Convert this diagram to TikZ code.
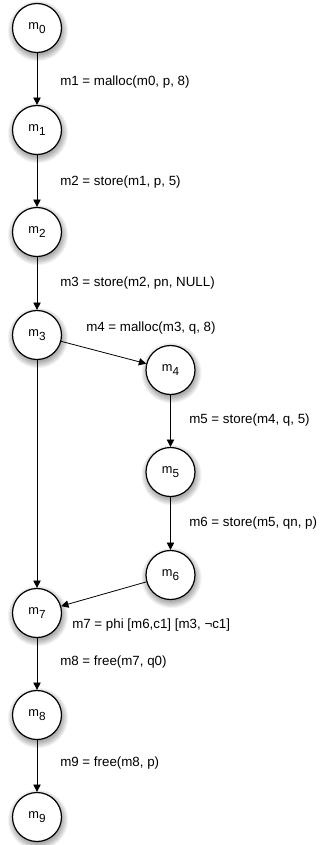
\documentclass[tikz,border=0pt]{standalone}
\usepackage{fontspec}
\setmainfont{Liberation Sans}
\usetikzlibrary{arrows.meta}
% state label: m with a lowered index
\newcommand{\mstate}[1]{m\raisebox{-3pt}{\fontsize{8.8}{10}\selectfont #1}}
\begin{document}
\begin{tikzpicture}[x=0.75pt,y=-0.75pt,
  state/.style={circle,draw,fill=white,line width=0.9pt,minimum size=36.75pt,
    inner sep=0pt,font=\fontsize{9.6}{11}\selectfont},
  lbl/.style={anchor=west,inner sep=0pt,font=\fontsize{10}{12}\selectfont},
  flow/.style={-{Triangle[length=5.5pt,width=5.5pt]},line width=0.6pt},
  ]
\useasboundingbox (0,0) rectangle (320,845);

% soft shadows under the states
\foreach \x/\y in {37/28,37/130,37/232,37/335,170.5/370,170.5/472,170.5/575,37/613,37/715,37/817}{
  \foreach \r in {30,29,...,22}{
    \fill[black,opacity=0.05] (\x+1,\y+3) circle ({\r*0.75pt});
  }
}

% states
\node[state] (m0) at (37,28)  {\mstate{0}};
\node[state] (m1) at (37,130) {\mstate{1}};
\node[state] (m2) at (37,232) {\mstate{2}};
\node[state] (m3) at (37,335) {\mstate{3}};
\node[state] (m4) at (170.5,370) {\mstate{4}};
\node[state] (m5) at (170.5,472) {\mstate{5}};
\node[state] (m6) at (170.5,575) {\mstate{6}};
\node[state] (m7) at (37,613) {\mstate{7}};
\node[state] (m8) at (37,715) {\mstate{8}};
\node[state] (m9) at (37,817) {\mstate{9}};

% transitions
\draw[flow] (m0) -- (m1);
\draw[flow] (m1) -- (m2);
\draw[flow] (m2) -- (m3);
\draw[flow] (m3) -- (m4);
\draw[flow] (m3) -- (m7);
\draw[flow] (m4) -- (m5);
\draw[flow] (m5) -- (m6);
\draw[flow] (m6) -- (m7);
\draw[flow] (m7) -- (m8);
\draw[flow] (m8) -- (m9);

% operation labels
\node[lbl] (l1) at (60,82)  {m1 = malloc(m0, p, 8)};
\node[lbl] (l2) at (60,182) {m2 = store(m1, p, 5)};
\node[lbl] (l3) at (60,283) {m3 = store(m2, pn, NULL)};
\node[lbl] (l4) at (86,328) {m4 = malloc(m3, q, 8)};
\node[lbl] (l5) at (189,420) {m5 = store(m4, q, 5)};
\node[lbl] (l6) at (189,523) {m6 = store(m5, qn, p)};
\node[lbl] (l7) at (72,625) {m7 = phi [m6,c1] [m3, ¬c1]};
\node[lbl] (l8) at (60,662) {m8 = free(m7, q0)};
\node[lbl] (l9) at (60,763) {m9 = free(m8, p)};
\end{tikzpicture}
\end{document}
